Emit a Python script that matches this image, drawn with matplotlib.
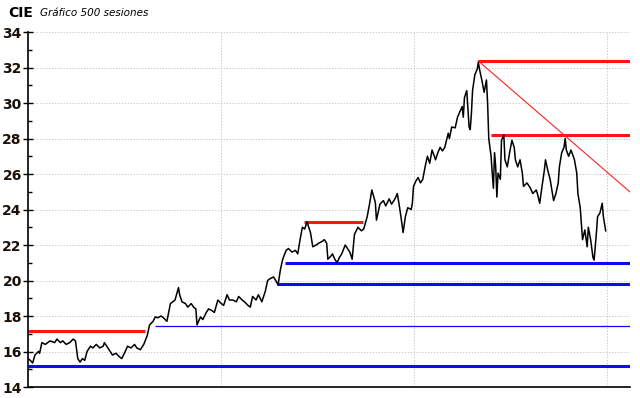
import matplotlib
matplotlib.use("Agg")
import matplotlib.pyplot as plt
import numpy as np

# ---- data (session index, closing price) ----
sessions = [0, 2, 4, 6, 9, 10, 12, 15, 19, 23, 25, 28, 30, 33, 36, 39, 41, 42, 43, 45, 47, 49,
            51, 54, 56, 59, 62, 65, 66, 69, 71, 73, 76, 79, 81, 84, 86, 89, 92, 94, 97, 98,
            100, 103, 105, 108, 110, 112, 115, 117, 120, 123, 125, 127, 130, 131, 133, 136,
            138, 141, 143, 145, 146, 149, 151, 154, 156, 159, 161, 164, 167, 169, 172, 174,
            177, 180, 182, 185, 187, 190, 192, 194, 197, 199, 202, 205, 207, 209, 212, 214,
            216, 218, 220, 223, 225, 228, 231, 233, 235, 237, 239, 241, 244, 246, 249, 251,
            254, 256, 258, 259, 262, 263, 265, 267, 269, 271, 274, 276, 278, 280, 282, 285,
            288, 290, 293, 295, 297, 300, 301, 304, 307, 309, 312, 314, 317, 319, 321, 323,
            324, 326, 328, 331, 332, 333, 335, 337, 339, 341, 343, 345, 347, 349, 351, 352,
            354, 356, 358, 360, 363, 364, 366, 369, 371, 373, 375, 376, 377, 379, 381, 382,
            383, 384, 386, 388, 389, 390, 392, 394, 396, 397, 398, 400, 401, 402, 403, 404,
            405, 406, 408, 409, 411, 412, 414, 416, 418, 420, 421, 423, 425, 427, 428, 431,
            434, 436, 439, 440, 442, 444, 446, 447, 449, 451, 453, 454, 456, 458, 459, 461,
            463, 464, 465, 467, 469, 471, 472, 474, 475, 477, 478, 479, 481, 483, 484, 486,
            488, 489, 491, 492, 494, 496, 497, 499]
prices = [15.6, 15.5, 15.35, 15.8, 16.0, 15.9, 16.5, 16.4, 16.6, 16.5, 16.7, 16.5, 16.6, 16.4,
          16.5, 16.7, 16.6, 16.1, 15.6, 15.4, 15.6, 15.5, 16.0, 16.3, 16.2, 16.4, 16.2, 16.3,
          16.5, 16.2, 16.0, 15.8, 15.9, 15.7, 15.6, 16.0, 16.3, 16.2, 16.4, 16.2, 16.1, 16.2,
          16.4, 16.9, 17.5, 17.7, 17.95, 17.9, 18.0, 17.9, 17.7, 18.7, 18.8, 18.9, 19.6, 19.2,
          18.8, 18.7, 18.5, 18.7, 18.5, 18.4, 17.5, 17.95, 17.8, 18.2, 18.4, 18.3, 18.2, 18.9,
          18.7, 18.6, 19.2, 18.9, 18.9, 18.8, 19.1, 18.9, 18.8, 18.6, 18.5, 19.1, 18.9, 19.2,
          18.8, 19.4, 20.0, 20.1, 20.2, 20.0, 19.75, 20.6, 21.2, 21.7, 21.8, 21.6, 21.7, 21.5,
          22.3, 23.0, 22.9, 23.3, 22.7, 21.9, 22.0, 22.1, 22.2, 22.3, 22.1, 21.2, 21.4, 21.5,
          21.2, 21.0, 21.3, 21.5, 22.0, 21.8, 21.6, 21.2, 22.6, 23.0, 22.8, 22.9, 23.6, 24.3,
          25.1, 24.4, 23.4, 24.3, 24.5, 24.2, 24.6, 24.3, 24.6, 24.9, 24.1, 23.2, 22.7, 23.6,
          24.1, 24.0, 24.35, 25.3, 25.6, 25.8, 25.5, 25.7, 26.4, 27.0, 26.6, 27.35, 27.0, 26.8,
          27.2, 27.5, 27.3, 27.5, 28.3, 28.0, 28.65, 28.6, 29.2, 29.5, 29.8, 29.2, 30.3, 30.7,
          28.65, 28.5, 29.4, 30.7, 31.6, 31.9, 32.3, 31.9, 31.3, 30.6, 31.3, 30.0, 28.0, 27.0,
          26.05, 25.2, 27.2, 26.4, 24.7, 26.05, 25.7, 27.9, 28.2, 26.8, 26.4, 27.2, 27.9, 27.5,
          26.8, 26.4, 26.8, 26.05, 25.3, 25.5, 25.2, 24.9, 25.1, 24.9, 24.35, 25.3, 26.2, 26.8,
          26.2, 25.7, 24.9, 24.5, 24.9, 25.5, 26.4, 27.2, 27.5, 28.0, 27.35, 27.0, 27.35, 27.0,
          26.8, 26.05, 24.9, 24.1, 23.2, 22.3, 22.85, 21.9, 23.0, 22.3, 21.3, 21.15, 22.7, 23.6,
          23.8, 24.35, 23.6, 22.8]

# support / resistance levels
res_levels = [17.15, 23.3, 32.37, 28.2]
res_start = [0, 238, 389, 400]
res_end = [101, 289, 520, 520]
sup_levels = [15.2, 17.45, 19.8, 21.0]
sup_start = [0, 110, 215, 222]
sup_end = [520, 520, 520, 520]
sup_thick = [True, False, True, True]
trend_start = (389, 32.37)
trend_end = (520, 24.99)

y_ticks = [14, 16, 18, 20, 22, 24, 26, 28, 30, 32, 34]
v_grid = [500 / 3, 1000 / 3, 500]

fig = plt.figure(figsize=(6.4, 3.98), dpi=100)
ax = fig.add_axes([28 / 640, 1 - 387 / 398, (630 - 28) / 640, (387 - 32) / 398])

ax.set_xlim(0, 520)
ax.set_ylim(14, 34)

# grid
for yv in y_ticks[1:]:
    ax.axhline(yv, color="#bdbdbd", lw=0.6, ls=(0, (1.5, 2)), zorder=0)
for xv in v_grid:
    ax.axvline(xv, color="#bdbdbd", lw=0.6, ls=(0, (1.5, 2)), zorder=0)

# levels
for lv, s0, s1 in zip(res_levels, res_start, res_end):
    ax.plot([s0, s1], [lv, lv], color="#ff1414", lw=2.2, solid_capstyle="butt", zorder=2)
for lv, s0, s1, th in zip(sup_levels, sup_start, sup_end, sup_thick):
    ax.plot([s0, s1], [lv, lv], color="#0c0cf0", lw=2.2 if th else 0.9,
            solid_capstyle="butt", zorder=2)
ax.plot([trend_start[0], trend_end[0]], [trend_start[1], trend_end[1]],
        color="#ff2020", lw=0.8, zorder=2)

# price line
ax.plot(sessions, prices, color="black", lw=1.1, zorder=3)

for sp in ["top", "right"]:
    ax.spines[sp].set_visible(False)
ax.spines["left"].set_linewidth(1.2)
ax.spines["bottom"].set_linewidth(1.2)

ax.set_yticks(y_ticks)
ax.set_yticks(np.arange(15, 34, 2), minor=True)
ax.set_yticklabels([str(t) for t in y_ticks], fontweight="bold", fontsize=10,
                   color="#1a1008", family="DejaVu Sans")
ax.tick_params(axis="y", which="major", direction="inout", length=7, width=1, pad=1)
ax.tick_params(axis="y", which="minor", direction="in", length=3, width=1)
ax.set_xticks([])

fig.text(8 / 640, 1 - 13 / 398, "CIE", fontweight="bold", fontsize=10, va="center",
         family="DejaVu Sans")
fig.text(40 / 640, 1 - 13 / 398, "Gráfico 500 sesiones", style="italic", fontsize=7.5,
         va="center", family="DejaVu Sans")

fig.savefig("out.png", dpi=100)
